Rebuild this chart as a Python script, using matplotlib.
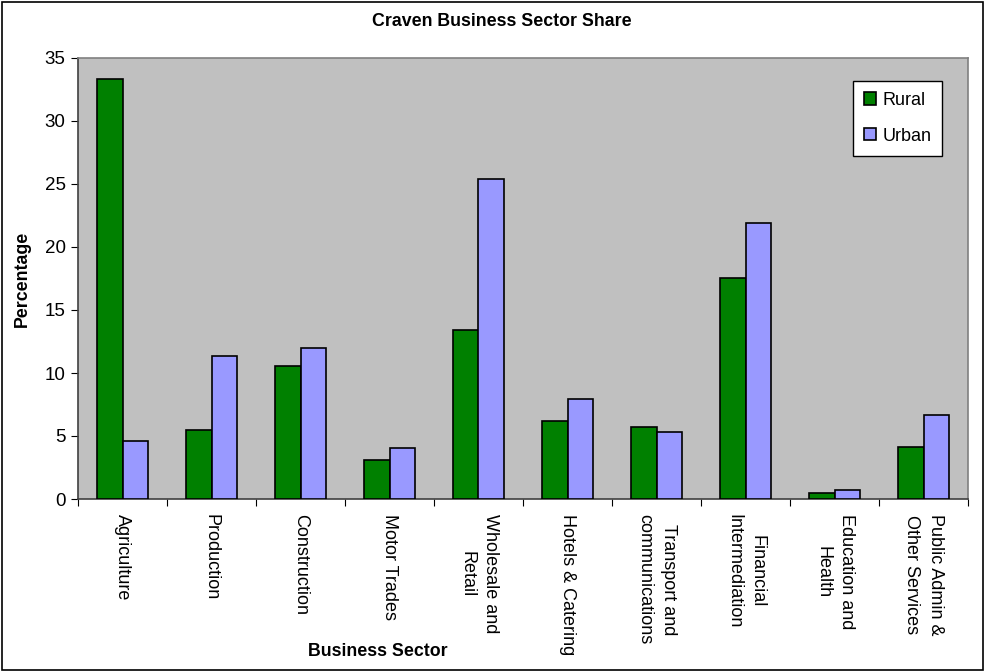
import matplotlib
matplotlib.use("Agg")
import matplotlib.pyplot as plt
import numpy as np
from matplotlib.patches import Rectangle

categories = ["Agriculture", "Production", "Construction", "Motor Trades",
              "Wholesale and\nRetail", "Hotels & Catering", "Transport and\ncommunications",
              "Financial\nIntermediation", "Education and\nHealth", "Public Admin &\nOther Services"]
rural = [33.3, 5.5, 10.55, 3.1, 13.4, 6.2, 5.7, 17.55, 0.48, 4.15]
urban = [4.6, 11.35, 12.0, 4.05, 25.4, 7.95, 5.3, 21.93, 0.74, 6.65]
yticks = [0, 5, 10, 15, 20, 25, 30, 35]

plt.rcParams['font.family'] = ['Liberation Sans', 'DejaVu Sans']

W, H = 986, 671
fig = plt.figure(figsize=(W/100, H/100), dpi=100)
fig.patch.set_facecolor('white')
ax = fig.add_axes([78/W, (H-499)/H, (968-78)/W, (499-58)/H])
ax.set_facecolor('#C0C0C0')

x = np.arange(len(categories))
bw = 0.29
ax.bar(x - bw/2, rural, bw, color='#008000', edgecolor='black', linewidth=1.2, label='Rural', zorder=3)
ax.bar(x + bw/2, urban, bw, color='#9999FF', edgecolor='black', linewidth=1.2, label='Urban', zorder=3)

ax.set_xlim(-0.5, len(categories) - 0.5)
ax.set_ylim(0, 35)
ax.set_yticks(yticks)
ax.set_yticklabels([str(v) for v in yticks], fontsize=13.5)
ax.set_xticks(np.arange(len(categories) + 1) - 0.5)
ax.set_xticklabels([])
ax.set_xticks(x, minor=True)
ax.set_xticklabels(categories, minor=True, rotation=-90, va='top', ha='center',
                   multialignment='center', fontsize=13, linespacing=1.5)
ax.tick_params(axis='x', which='minor', length=0, pad=11)
ax.tick_params(axis='x', which='major', length=5, direction='out', color='black')
ax.tick_params(axis='y', length=5, direction='out', color='black', pad=4)

for s in ['top', 'right']:
    ax.spines[s].set_color('#808080')
    ax.spines[s].set_linewidth(1.2)
for s in ['left', 'bottom']:
    ax.spines[s].set_color('#404040')
    ax.spines[s].set_linewidth(1.2)

leg = ax.legend(loc='upper right', bbox_to_anchor=(942/W, (H-81)/H), bbox_transform=fig.transFigure,
                frameon=True, fancybox=False, fontsize=13, labelspacing=1.05,
                handlelength=0.65, handleheight=0.65, handletextpad=0.35, borderpad=0.6,
                borderaxespad=0, facecolor='white', framealpha=1.0)
leg.get_frame().set_edgecolor('black')
leg.get_frame().set_linewidth(1.0)

fig.text(502/W, 1 - 22/H, "Craven Business Sector Share", ha='center', va='center',
         fontsize=12.8, fontweight='bold')
fig.text(22/W, 1 - 279/H, "Percentage", ha='center', va='center', rotation=90,
         fontsize=12.8, fontweight='bold')
fig.text(378/W, 1 - 651/H, "Business Sector", ha='center', va='center',
         fontsize=12.8, fontweight='bold')

fig.patches.append(Rectangle((2/W, 1/H), (983-2)/W, (669-1)/H, transform=fig.transFigure,
                             fill=False, edgecolor='black', linewidth=1.2))

fig.savefig("out.png", dpi=100)
